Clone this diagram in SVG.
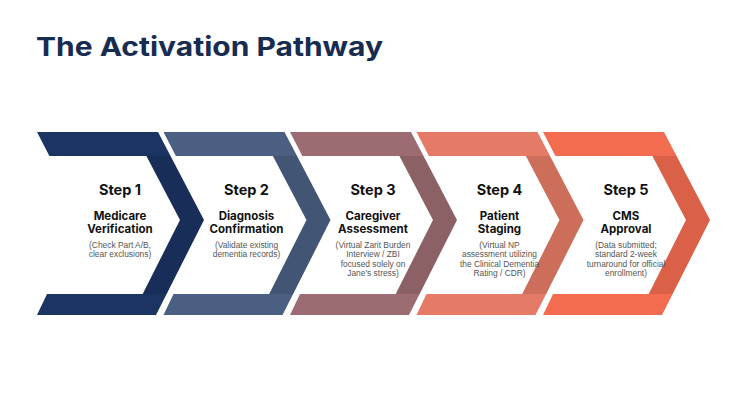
<svg xmlns="http://www.w3.org/2000/svg" width="739" height="400" viewBox="0 0 739 400">
<style>
.title{font-family:Inter,"Liberation Sans",sans-serif;font-weight:700;font-size:26px;fill:#172c50}
.step{font-family:Inter,"Liberation Sans",sans-serif;font-weight:700;font-size:14.5px;fill:#111;text-anchor:middle}
.name{font-family:Inter,"Liberation Sans",sans-serif;font-weight:700;font-size:11.5px;fill:#111;text-anchor:middle}
.desc{font-family:"Liberation Sans",Arial,sans-serif;font-size:8.4px;fill:#555;text-anchor:middle}
.shade{fill:#000;opacity:0.1}
</style>
<defs>
<path id="band" d="M0,132 L121,132 L167,220 L119,315 L0,315 L10,294 L105.7,294 L143,220 L109.4,156 L12.4,156 Z"/>
<path id="diag" d="M109.4,156 L133.4,156 L167,220 L129.7,294 L105.7,294 L143,220 Z"/>
</defs>
<rect width="739" height="400" fill="#ffffff"/>
<text class="title" x="36" y="56" textLength="347" lengthAdjust="spacingAndGlyphs">The Activation Pathway</text>
<g id="step1" transform="translate(37,0)">
<use href="#band" fill="#1b3462"/><use href="#diag" class="shade"/>
<text class="step" x="83" y="195">Step 1</text>
<text class="name" x="83" y="220">Medicare</text>
<text class="name" x="83" y="233">Verification</text>
<text class="desc" x="83" y="248">(Check Part A/B,</text>
<text class="desc" x="83" y="257.3">clear exclusions)</text>
</g>
<g id="step2" transform="translate(163.5,0)">
<use href="#band" fill="#4a5f82"/><use href="#diag" class="shade"/>
<text class="step" x="83" y="195">Step 2</text>
<text class="name" x="83" y="220">Diagnosis</text>
<text class="name" x="83" y="233">Confirmation</text>
<text class="desc" x="83" y="248">(Validate existing</text>
<text class="desc" x="83" y="257.3">dementia records)</text>
</g>
<g id="step3" transform="translate(290,0)">
<use href="#band" fill="#9c6c72"/><use href="#diag" class="shade"/>
<text class="step" x="83" y="195">Step 3</text>
<text class="name" x="83" y="220">Caregiver</text>
<text class="name" x="83" y="233">Assessment</text>
<text class="desc" x="83" y="248">(Virtual Zarit Burden</text>
<text class="desc" x="83" y="257.3">Interview / ZBI</text>
<text class="desc" x="83" y="266.6">focused solely on</text>
<text class="desc" x="83" y="275.9">Jane’s stress)</text>
</g>
<g id="step4" transform="translate(416.5,0)">
<use href="#band" fill="#e57b66"/><use href="#diag" class="shade"/>
<text class="step" x="83" y="195">Step 4</text>
<text class="name" x="83" y="220">Patient</text>
<text class="name" x="83" y="233">Staging</text>
<text class="desc" x="83" y="248">(Virtual NP</text>
<text class="desc" x="83" y="257.3">assessment utilizing</text>
<text class="desc" x="83" y="266.6">the Clinical Dementia</text>
<text class="desc" x="83" y="275.9">Rating / CDR)</text>
</g>
<g id="step5" transform="translate(543,0)">
<use href="#band" fill="#f36c50"/><use href="#diag" class="shade"/>
<text class="step" x="83" y="195">Step 5</text>
<text class="name" x="83" y="220">CMS</text>
<text class="name" x="83" y="233">Approval</text>
<text class="desc" x="83" y="248">(Data submitted;</text>
<text class="desc" x="83" y="257.3">standard 2-week</text>
<text class="desc" x="83" y="266.6">turnaround for official</text>
<text class="desc" x="83" y="275.9">enrollment)</text>
</g>
<g id="connectors"/>
</svg>
